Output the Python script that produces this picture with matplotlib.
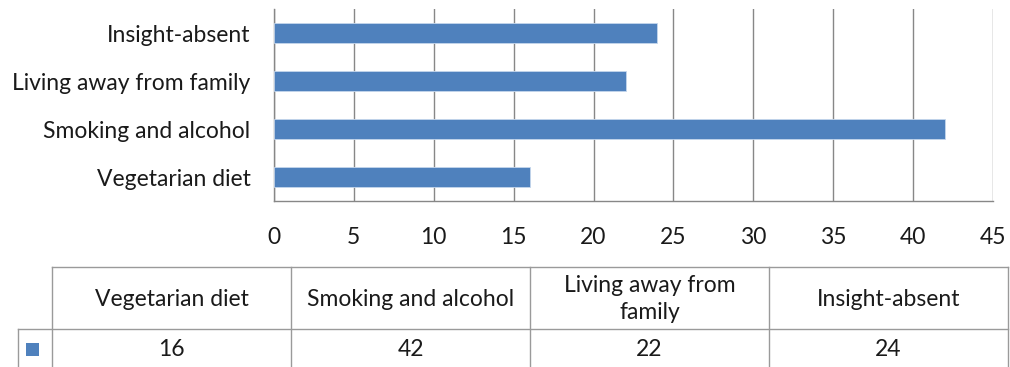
import matplotlib
matplotlib.use("Agg")
import matplotlib.pyplot as plt
from matplotlib.patches import Rectangle

categories = ["Vegetarian diet", "Smoking and alcohol", "Living away from family", "Insight-absent"]
values = [16, 42, 22, 24]
table_headers = ["Vegetarian diet", "Smoking and alcohol", "Living away from\nfamily", "Insight-absent"]
x_ticks = [0, 5, 10, 15, 20, 25, 30, 35, 40, 45]

BAR = "#4F81BD"
GRID = "#878787"
TABLE_LINE = "#9A9A9A"
TEXT = "#1A1A1A"
FS = 16.5

plt.rcParams["font.family"] = ["Lato", "DejaVu Sans"]
W, H = 1010, 367
fig = plt.figure(figsize=(W / 100, H / 100), dpi=100)

# bar chart area
ax = fig.add_axes([274 / W, (H - 201) / H, 719 / W, 192 / H])
ypos = list(range(len(categories)))
ax.barh(ypos, values, height=0.4, color=BAR, edgecolor="#C5D6EC", linewidth=0.6, zorder=3)
ax.set_xlim(0, 45)
ax.set_ylim(-0.5, len(categories) - 0.5)
ax.set_xticks(x_ticks)
ax.set_xticklabels([str(t) for t in x_ticks], fontsize=FS, color=TEXT)
ax.set_yticks(ypos)
ax.set_yticklabels(categories, fontsize=FS, color=TEXT)
ax.tick_params(axis="x", length=0, pad=19)
ax.tick_params(axis="y", length=0, pad=17)
ax.grid(axis="x", color=GRID, linewidth=1.0, zorder=0)
for side in ("top", "right"):
    ax.spines[side].set_visible(False)
for side in ("left", "bottom"):
    ax.spines[side].set_color(GRID)
    ax.spines[side].set_linewidth(1.0)

# data table below the chart, drawn in pixel units
tx = fig.add_axes([0, 0, 1, 1])
tx.set_xlim(0, W)
tx.set_ylim(H, 0)
tx.axis("off")

col_left = 52
col_w = (1008 - 52) / len(categories)
legend_left = 18
head_top, head_bot, row_bot = 267, 329, 372

tx.plot([col_left, col_left + col_w * len(categories)], [head_top, head_top], color=TABLE_LINE, lw=1)
tx.plot([legend_left, col_left + col_w * len(categories)], [head_bot, head_bot], color=TABLE_LINE, lw=1)
tx.plot([legend_left, legend_left], [head_bot, row_bot], color=TABLE_LINE, lw=1)
for i in range(len(categories) + 1):
    xx = col_left + col_w * i
    tx.plot([xx, xx], [head_top, row_bot], color=TABLE_LINE, lw=1)

for i, (hdr, v) in enumerate(zip(table_headers, values)):
    cx = col_left + col_w * (i + 0.5)
    tx.text(cx, (head_top + head_bot) / 2 + 1, hdr, ha="center", va="center",
            fontsize=FS, color=TEXT, linespacing=1.35)
    tx.text(cx, 350, str(v), ha="center", va="center", fontsize=FS, color=TEXT)

tx.add_patch(Rectangle((26, 343), 13, 13, facecolor=BAR, edgecolor="none"))

fig.savefig("out.png", dpi=100)
